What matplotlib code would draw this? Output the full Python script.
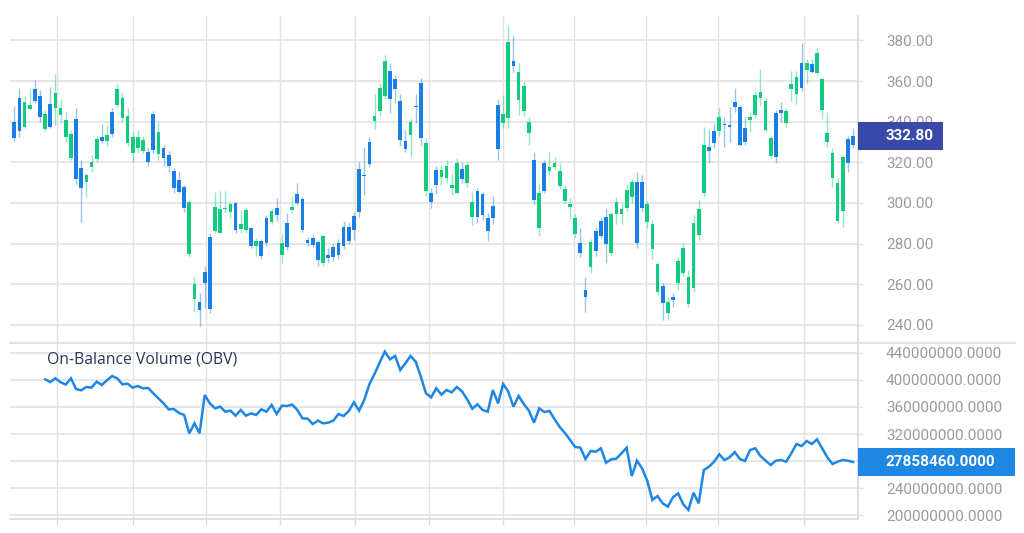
import numpy as np
import matplotlib
matplotlib.use("Agg")
import matplotlib.pyplot as plt
from matplotlib.patches import Rectangle
from matplotlib.lines import Line2D
import matplotlib.transforms as mtransforms

# ---------------- data ----------------
opens = [332.0, 335.6, 349.8, 348.0, 350.3, 342.1, 343.6, 337.5, 353.9, 346.6,
         340.8, 333.9, 311.8, 307.2, 313.6, 320.3, 331.5, 330.7, 333.6, 333.9,
         356.1, 351.8, 342.9, 332.6, 332.6, 331.0, 320.3, 326.1, 335.1, 322.0,
         318.2, 307.2, 305.3, 297.7, 300.7, 260.2, 247.1, 260.8, 247.7, 297.9,
         297.1, 297.4, 299.3, 286.7, 289.7, 296.6, 278.9, 281.5, 273.9, 280.5,
         296.1, 294.1, 280.2, 278.5, 298.2, 300.2, 286.7, 280.2, 279.4, 272.0,
         283.8, 272.8, 273.3, 274.4, 278.9, 281.5, 286.7, 295.7, 313.3, 319.2,
         342.8, 356.7, 370.0, 351.0, 356.1, 331.0, 326.4, 340.0, 347.1, 331.8,
         329.3, 300.7, 308.9, 316.2, 318.2, 308.9, 319.5, 311.6, 318.7, 300.7,
         293.3, 294.1, 286.4, 292.5, 326.4, 343.8, 379.3, 367.4, 364.6, 357.5,
         339.7, 301.5, 305.1, 306.1, 317.9, 319.8, 315.7, 307.1, 299.3, 292.8,
         275.3, 253.9, 280.8, 276.6, 283.9, 279.8, 294.6, 300.7, 297.1, 306.4,
         310.2, 280.2, 297.4, 299.5, 289.5, 270.0, 250.7, 251.5, 252.3, 271.6,
         277.7, 263.8, 290.3, 296.9, 328.5, 325.7, 329.7, 342.5, 338.4, 337.5,
         347.0, 328.5, 330.2, 342.1, 353.1, 354.8, 350.3, 331.8, 322.8, 344.1,
         345.4, 358.5, 361.8, 356.4, 368.7, 364.6, 373.9, 360.8, 334.6, 324.4,
         310.0, 322.8, 319.8, 328.5]

highs = [347.7, 356.4, 352.6, 356.4, 360.5, 355.6, 345.7, 357.2, 363.4, 351.0,
         344.9, 335.9, 346.6, 321.2, 314.9, 323.6, 333.4, 338.9, 338.4, 346.6,
         358.5, 353.9, 346.6, 335.1, 335.9, 333.0, 326.9, 345.2, 340.0, 328.5,
         325.7, 317.1, 315.9, 308.9, 301.5, 263.8, 255.6, 269.0, 285.1, 305.6,
         306.1, 306.1, 300.7, 300.7, 296.6, 297.4, 288.4, 282.6, 282.1, 294.1,
         296.9, 302.3, 284.8, 294.9, 303.4, 309.7, 302.8, 283.1, 284.3, 281.8,
         284.3, 277.7, 280.2, 282.1, 291.3, 290.8, 295.7, 320.3, 327.7, 332.6,
         353.6, 359.2, 372.8, 369.0, 363.0, 353.6, 335.9, 341.1, 353.6, 361.3,
         331.8, 307.2, 318.2, 318.7, 321.2, 314.3, 322.0, 320.3, 320.3, 305.6,
         307.2, 305.6, 294.9, 303.4, 351.0, 353.1, 387.5, 382.1, 369.0, 360.2,
         342.5, 325.2, 309.7, 321.2, 325.2, 322.8, 319.8, 308.9, 302.3, 294.6,
         287.5, 263.8, 282.1, 288.0, 293.0, 297.4, 295.7, 302.8, 299.8, 309.4,
         311.6, 315.4, 313.8, 301.1, 291.6, 271.2, 260.5, 253.9, 255.9, 273.6,
         280.5, 267.1, 294.1, 301.5, 337.5, 335.9, 339.5, 346.6, 342.5, 347.0,
         356.4, 348.2, 342.1, 344.9, 355.2, 365.7, 351.5, 333.0, 345.7, 349.8,
         346.6, 365.1, 365.1, 378.9, 370.7, 370.7, 376.1, 362.1, 344.9, 326.9,
         312.1, 323.6, 333.0, 336.7]

lows = [330.5, 332.6, 336.7, 345.7, 349.0, 340.0, 335.6, 336.7, 338.4, 339.2,
        330.2, 321.2, 309.3, 290.8, 303.1, 315.4, 320.3, 329.3, 328.0, 332.6,
        347.4, 340.0, 328.0, 320.3, 324.4, 324.4, 318.2, 324.8, 321.2, 318.2,
        315.4, 305.1, 304.8, 295.8, 273.3, 246.6, 239.7, 248.2, 245.8, 285.1,
        285.1, 294.9, 292.5, 285.4, 285.1, 285.1, 277.7, 273.9, 272.3, 278.9,
        289.7, 291.3, 270.7, 276.9, 294.9, 299.0, 285.9, 278.9, 278.2, 269.0,
        269.0, 271.2, 271.6, 272.3, 277.2, 279.8, 281.8, 293.3, 304.0, 317.9,
        336.2, 342.8, 351.0, 344.1, 349.3, 328.0, 325.2, 322.8, 339.5, 328.0,
        303.4, 297.4, 304.4, 308.9, 309.7, 303.9, 304.4, 309.7, 308.0, 289.2,
        290.3, 291.6, 281.5, 289.7, 321.2, 336.7, 336.7, 364.6, 343.3, 342.8,
        328.5, 299.0, 283.8, 305.1, 313.8, 316.6, 306.7, 299.8, 292.0, 282.6,
        273.6, 246.6, 265.4, 273.9, 282.6, 270.7, 274.4, 289.7, 289.7, 296.2,
        300.2, 277.7, 295.7, 287.5, 272.3, 254.8, 242.5, 242.5, 249.0, 257.2,
        264.1, 248.7, 256.4, 281.8, 302.8, 319.8, 326.9, 333.0, 327.7, 330.2,
        344.9, 328.0, 328.5, 335.1, 341.6, 347.7, 335.1, 322.0, 319.8, 340.0,
        337.5, 350.3, 348.7, 355.2, 358.8, 363.8, 362.9, 341.1, 327.4, 308.0,
        290.0, 288.4, 315.4, 326.9]

closes = [339.8, 351.5, 337.5, 346.1, 355.9, 352.6, 336.4, 348.5, 346.9, 343.3,
          332.6, 322.0, 341.1, 317.1, 310.3, 317.9, 321.5, 332.6, 330.5, 344.9,
          348.2, 341.6, 329.3, 324.4, 326.9, 325.7, 325.2, 343.8, 324.1, 327.2,
          323.6, 315.7, 311.3, 308.0, 274.8, 252.6, 251.5, 266.1, 283.5, 286.4,
          285.4, 296.9, 295.4, 300.2, 287.1, 286.7, 287.5, 278.9, 281.3, 292.8,
          290.5, 297.4, 274.4, 290.3, 296.6, 304.4, 302.0, 281.8, 283.0, 280.7,
          270.7, 274.4, 278.2, 280.2, 288.4, 288.4, 293.6, 316.6, 313.4, 329.8,
          340.5, 345.4, 352.6, 365.1, 361.0, 350.3, 330.5, 333.4, 347.9, 359.2,
          306.1, 305.1, 316.2, 313.0, 312.1, 307.2, 305.1, 316.6, 310.0, 293.3,
          306.1, 304.4, 292.5, 298.5, 348.2, 339.2, 341.6, 370.0, 350.7, 345.4,
          334.6, 321.2, 287.5, 319.8, 315.9, 317.9, 308.4, 301.0, 298.2, 284.8,
          280.5, 257.2, 268.4, 286.4, 291.3, 293.0, 275.6, 294.4, 294.6, 297.4,
          303.1, 310.2, 310.2, 290.8, 277.4, 256.1, 259.3, 245.7, 253.6, 260.5,
          265.7, 250.3, 258.0, 284.3, 304.8, 327.7, 335.4, 335.6, 338.9, 338.4,
          349.8, 347.0, 336.7, 340.8, 343.3, 351.5, 335.9, 323.1, 344.5, 345.7,
          339.2, 355.9, 353.6, 368.7, 365.4, 368.4, 364.1, 345.7, 330.2, 312.1,
          291.3, 296.2, 331.3, 332.8]

# On-Balance Volume, in millions, starting at candle index 6
obv_start = 6
obv_millions = [401.0, 397.0, 402.5, 396.5, 393.3, 402.5, 386.7, 384.7, 389.6, 388.7,
                397.5, 392.6, 399.5, 405.9, 402.5, 393.6, 394.6, 388.7, 391.1, 387.7,
                388.2, 380.3, 372.8, 365.4, 356.5, 357.0, 351.1, 348.2, 321.0, 335.8,
                321.0, 377.8, 365.4, 358.0, 360.5, 353.1, 354.6, 347.2, 355.6, 347.2,
                350.6, 348.2, 356.5, 353.1, 363.0, 349.6, 362.0, 361.5, 363.5, 355.6,
                343.2, 342.7, 334.8, 339.8, 335.8, 336.8, 339.8, 349.6, 346.7, 354.1,
                366.9, 354.6, 370.4, 393.6, 408.9, 425.7, 442.0, 430.6, 435.6, 414.8,
                424.7, 435.6, 427.2, 404.9, 380.3, 374.3, 387.7, 378.3, 385.2, 381.7,
                389.6, 383.2, 371.4, 357.5, 364.0, 355.6, 353.1, 385.2, 365.4, 394.1,
                382.7, 360.5, 376.3, 364.5, 354.6, 336.8, 358.0, 352.6, 354.1, 341.7,
                330.4, 321.5, 311.1, 300.8, 299.8, 283.0, 294.8, 293.8, 298.8, 277.5,
                282.5, 283.5, 291.4, 299.8, 257.8, 280.5, 269.2, 250.9, 222.2, 228.1,
                217.3, 212.4, 226.2, 232.1, 215.8, 207.4, 233.1, 217.3, 266.6, 271.6,
                279.0, 289.9, 281.5, 285.4, 293.3, 283.0, 280.0, 296.3, 298.8, 287.4,
                280.5, 274.1, 280.5, 281.5, 279.0, 291.4, 305.2, 302.2, 309.6, 305.2,
                312.1, 298.8, 285.4, 275.6, 279.0, 281.5, 280.5, 278.5846]

price_ticks = [240, 260, 280, 300, 320, 340, 360, 380]
obv_ticks = [200e6, 240e6, 280e6, 320e6, 360e6, 400e6, 440e6]
# date grid positions (in candle-index units)
date_grid = [8.3, 23.07, 37.25, 51.63, 66.21, 80.58, 94.96, 108.76, 122.76, 136.75, 153.46]
obv_title = "On-Balance Volume (OBV)"
obv_badge_text = "27858460.0000"

# ---------------- styling ----------------
UP = "#1a7fe3"
DOWN = "#13cb7e"
GRID = "#e3e3e3"
LABEL = "#9a9a9a"
W, H = 1024, 533

def fx(px):
    return px / W

def fy(py):
    return 1 - py / H

fig = plt.figure(figsize=(W / 100, H / 100), dpi=100)
fig.patch.set_facecolor("white")

ax1 = fig.add_axes([fx(10), fy(342), (858 - 10) / W, (342 - 16) / H])
ax2 = fig.add_axes([fx(10), fy(519), (858 - 10) / W, (519 - 343) / H])

n = len(closes)
x = np.arange(n)
o = np.array(opens); c = np.array(closes); h = np.array(highs); l = np.array(lows)
up = c >= o
cols = np.where(up, UP, DOWN)

# wicks
ax1.vlines(x, l, h, colors=cols, linewidth=1.0, alpha=0.45, zorder=2)
# bodies
body_bottom = np.minimum(o, c)
body_h = np.maximum(np.abs(c - o), 0.7)
ax1.bar(x, body_h, bottom=body_bottom, width=0.72, color=cols, linewidth=0, zorder=3)

ylo1, yhi1 = 231.6, 392.0
ax1.set_ylim(ylo1, yhi1)
ax1.set_xlim(-0.84, 163.96)

# OBV
xo = np.arange(obv_start, obv_start + len(obv_millions))
obv_vals = np.array(obv_millions) * 1e6
ax2.plot(xo, obv_vals, color="#1e86e3", linewidth=1.8,
         solid_joinstyle="miter", zorder=3)
ylo2, yhi2 = 194.1e6, 454.8e6
ax2.set_ylim(ylo2, yhi2)
ax2.set_xlim(-0.84, 163.96)

# tick labels hidden behind the last-value badge are left blank
def tick_labels(ticks, fmt, hidden_near, tol):
    return ["" if abs(t - hidden_near) < tol else fmt.format(t) for t in ticks]

price_labels = tick_labels(price_ticks, "{:.2f}", closes[-1], 5.0)
obv_labels = tick_labels(obv_ticks, "{:.4f}", obv_vals[-1], 10e6)

for ax, ticks, labels in ((ax1, price_ticks, price_labels), (ax2, obv_ticks, obv_labels)):
    ax.set_facecolor("none")
    ax.yaxis.tick_right()
    ax.set_yticks(ticks)
    ax.set_yticklabels(labels)
    ax.set_xticks(date_grid)
    ax.grid(axis="y", color=GRID, linewidth=1.2, zorder=0)
    ax.grid(axis="x", color=GRID, linewidth=1.0, zorder=0)
    ax.tick_params(axis="y", direction="out", length=3.6, width=1.0, color=GRID,
                   pad=16.5, labelsize=11, labelcolor=LABEL)
    for lab in ax.get_yticklabels():
        lab.set_family(["Roboto", "DejaVu Sans"])
    for s in ("left", "top", "bottom"):
        ax.spines[s].set_visible(False)
    ax.spines["right"].set_color("#d8d8d8")
    ax.spines["right"].set_linewidth(1.2)

ax1.tick_params(axis="x", length=0, labelbottom=False)
ax2.tick_params(axis="x", direction="out", length=4.5, width=1.0, color="#dcdcdc",
                labelbottom=False)
ax2.spines["bottom"].set_visible(True)
ax2.spines["bottom"].set_color("#dcdcdc")
ax2.spines["bottom"].set_linewidth(1.2)

# separator between panels
fig.add_artist(Line2D([fx(10), fx(1015)], [fy(342.5), fy(342.5)],
                      transform=fig.transFigure, color="#dedede", linewidth=1.2))

# title of the OBV panel
fig.text(fx(47), fy(363), obv_title, ha="left", va="baseline",
         fontsize=11.3, color="#2b3558", family=["Open Sans", "DejaVu Sans"])

# last value badges
def badge(ax, value, text, color, x_right_px, ylo, yhi, ax_px_h):
    trans = mtransforms.blended_transform_factory(fig.transFigure, ax.transData)
    hh = 28 * (yhi - ylo) / ax_px_h
    rect = Rectangle((fx(858), value - hh / 2), (x_right_px - 858) / W, hh,
                     transform=trans, facecolor=color, edgecolor="none", zorder=10)
    fig.add_artist(rect)
    t = fig.text(fx(886), 0, text, ha="left", va="center", color="white",
                 fontsize=11, fontweight="semibold", family=["Roboto", "DejaVu Sans"],
                 zorder=11)
    t.set_transform(trans)
    t.set_position((fx(886), value))

badge(ax1, closes[-1], "{:.2f}".format(closes[-1]), "#3949a9", 943, ylo1, yhi1, 326)
badge(ax2, obv_vals[-1], obv_badge_text, "#1e86e3", 1015, ylo2, yhi2, 176)

fig.savefig("out.png", dpi=100, facecolor="white")
